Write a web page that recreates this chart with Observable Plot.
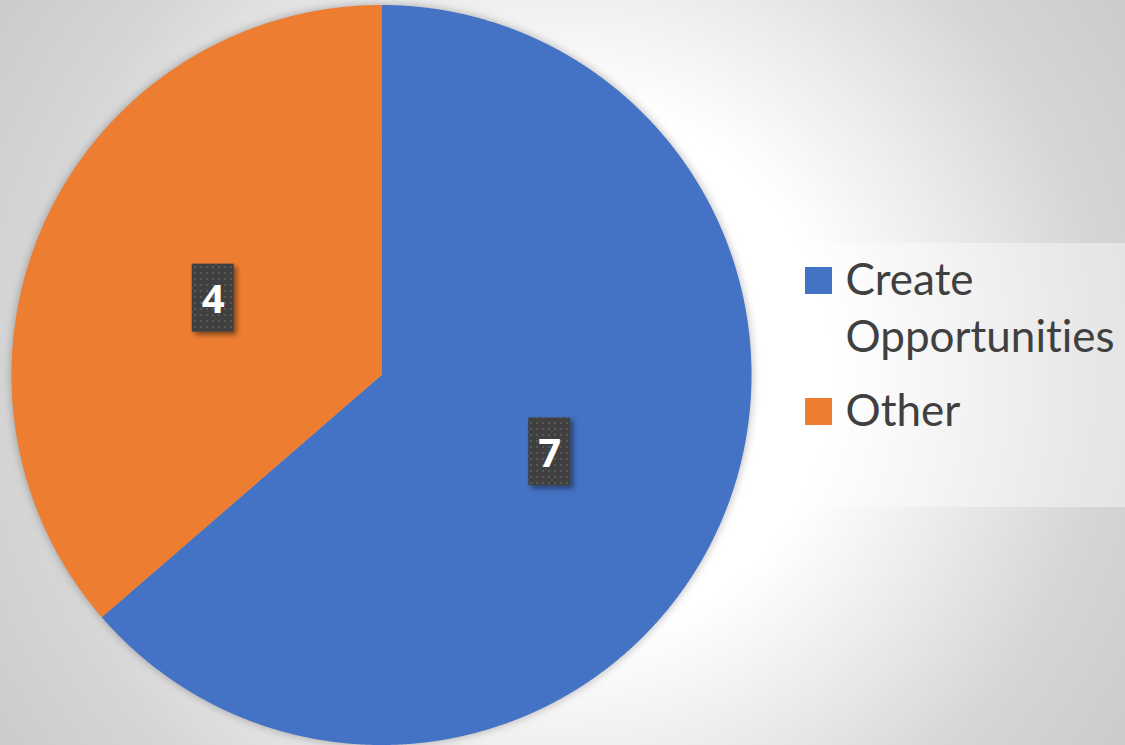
<!DOCTYPE html>
<html><head><meta charset="utf-8">
<script src="https://cdn.jsdelivr.net/npm/d3@7"></script>
<script src="https://cdn.jsdelivr.net/npm/@observablehq/plot@0.6"></script>
<style>html,body{margin:0;padding:0;background:#fff;} #chart{width:1125px;height:745px;} svg text{font-variant-ligatures:none;font-feature-settings:"liga" 0;}</style>
</head><body><div id="chart"></div>
<script>
// ---- data ----
const categories = ["Create Opportunities", "Other"];
const values = [7, 4];
const colors = ["#4472C4", "#ED7D31"];
const legendLabels = ["Create\nOpportunities", "Other"];

// ---- layout ----
const W = 1125, H = 745;
const cx = 381, cy = 374.5, R = 370;
const labelRadius = 0.5 * R;
const boxW = 42, boxH = 68;
const legendBox = {x1: 785, x2: 1135, y1: 243, y2: 507};
const legendSwatchX = 805, swatch = 27, legendTextX = 845;
const legendFont = 44, legendLine = 58, legendGap = 73, legendFirstBaseline = 294;

const data = categories.map((c, i) => ({category: c, value: values[i]}));
const arcs = d3.pie().sort(null).value(d => d.value)(data);

const slicePoints = arcs.flatMap(a => {
  const n = Math.ceil((a.endAngle - a.startAngle) / (Math.PI / 1440));
  const pts = [{category: a.data.category, px: cx, py: cy}];
  for (let i = 0; i <= n; i++) {
    const t = a.startAngle + (a.endAngle - a.startAngle) * i / n;
    pts.push({category: a.data.category, px: cx + R * Math.sin(t), py: cy - R * Math.cos(t)});
  }
  pts.push({category: a.data.category, px: cx, py: cy});
  return pts;
});
const labels = arcs.map(a => {
  const m = (a.startAngle + a.endAngle) / 2;
  return {value: a.data.value, px: cx + labelRadius * Math.sin(m), py: cy - labelRadius * Math.cos(m)};
});

let itemBaseline = legendFirstBaseline;
const legendItems = categories.map((c, i) => {
  const lines = legendLabels[i].split("\n").length;
  const item = {category: c, label: legendLabels[i], baseline: itemBaseline, ty: itemBaseline - 0.71 * legendLine};
  itemBaseline += (lines - 1) * legendLine + legendGap;
  return item;
});

const svg = Plot.plot({
  width: W, height: H,
  margin: 0,
  x: {type: "linear", domain: [0, W], range: [0, W], axis: null},
  y: {type: "linear", domain: [0, H], range: [0, H], axis: null},
  color: {domain: categories, range: colors},
  style: {
    background: "radial-gradient(circle at 50% 50%, #ffffff 0px, #ffffff 270px, #ececec 400px, #d6d6d6 540px, #cbcbcb 680px)",
    overflow: "visible"
  },
  marks: [
    Plot.dot([{px: cx, py: cy}], {x: "px", y: "py", r: R, fill: "#000", fillOpacity: 0.3, stroke: "none"}),
    Plot.line(slicePoints, {x: "px", y: "py", z: "category", fill: "category", stroke: "none"}),
    Plot.rect([legendBox], {x1: "x1", x2: "x2", y1: "y1", y2: "y2", fill: "white", fillOpacity: 0.4}),
    Plot.rect(legendItems, {x1: () => legendSwatchX, x2: () => legendSwatchX + swatch, y1: d => d.baseline - swatch, y2: "baseline", fill: "category"}),
    Plot.text(legendItems, {x: () => legendTextX, y: "ty", text: "label", textAnchor: "start", lineAnchor: "top",
      lineHeight: legendLine / legendFont, fontSize: legendFont, fill: "#404040", fontFamily: "Lato"}),
    Plot.rect(labels, {x1: d => d.px - boxW / 2, x2: d => d.px + boxW / 2, y1: d => d.py - boxH / 2, y2: d => d.py + boxH / 2, fill: "url(#dots)"}),
    Plot.text(labels, {x: "px", y: "py", text: d => String(d.value), fill: "white", fontWeight: "bold", fontSize: 40, fontFamily: "Open Sans", dy: 2})
  ]
});

const s = d3.select(svg);
const defs = s.insert("defs", ":first-child");
const pat = defs.append("pattern").attr("id", "dots").attr("width", 6).attr("height", 6).attr("patternUnits", "userSpaceOnUse");
pat.append("rect").attr("width", 6).attr("height", 6).attr("fill", "#404040");
pat.append("rect").attr("x", 2).attr("y", 2).attr("width", 2).attr("height", 2).attr("fill", "#585858");
const blur = defs.append("filter").attr("id", "pieShadow").attr("x", "-10%").attr("y", "-10%").attr("width", "120%").attr("height", "120%");
blur.append("feGaussianBlur").attr("stdDeviation", 5);
const ds = defs.append("filter").attr("id", "boxShadow").attr("x", "-30%").attr("y", "-30%").attr("width", "160%").attr("height", "160%");
ds.append("feDropShadow").attr("dx", 3).attr("dy", 3).attr("stdDeviation", 2.5).attr("flood-color", "#000").attr("flood-opacity", 0.45);

const dotG = svg.querySelector('g[aria-label="dot"]');
if (dotG) dotG.setAttribute("filter", "url(#pieShadow)");
const rectGs = svg.querySelectorAll('g[aria-label="rect"]');
if (rectGs.length) rectGs[rectGs.length - 1].setAttribute("filter", "url(#boxShadow)");

document.getElementById("chart").appendChild(svg);
</script>
</body></html>
